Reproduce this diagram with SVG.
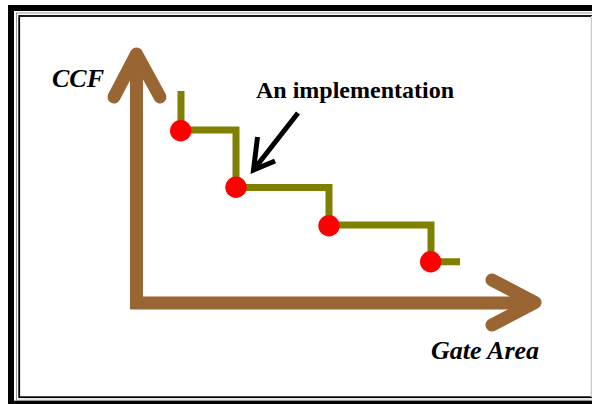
<svg xmlns="http://www.w3.org/2000/svg" width="592" height="404" viewBox="0 0 592 404">
  <defs>
    <style>
      .frame-thick { fill: none; stroke: #000; stroke-width: 6; }
      .frame-gray { fill: none; stroke: #808080; stroke-width: 0.8; }
      .frame-thin { fill: none; stroke: #000; stroke-width: 1.8; }
      .frame-edge { stroke: #c8c8c8; stroke-width: 1.2; }
      .axis { fill: none; stroke: #996633; stroke-width: 13; stroke-linejoin: miter; stroke-linecap: butt; }
      .axis-head { fill: none; stroke: #996633; stroke-width: 13; stroke-linejoin: round; stroke-linecap: round; }
      .step { fill: none; stroke: #808000; stroke-width: 7; stroke-linejoin: miter; stroke-linecap: butt; }
      .dot { fill: #ff0000; }
      .pointer { fill: none; stroke: #000; stroke-width: 5; stroke-linecap: butt; stroke-linejoin: miter; }
      .label { font-family: "Liberation Serif", "Times New Roman", serif; font-weight: bold; fill: #000; }
      .axis-label { font-style: italic; font-size: 26px; }
    </style>
  </defs>

  <rect width="592" height="404" fill="#fff"/>

  <!-- triple-line frame; its right side runs off the page -->
  <g id="frame">
    <rect class="frame-thick" x="11" y="8" width="600" height="395.7"/>
    <rect class="frame-gray" x="16.4" y="13" width="600" height="387.2"/>
    <rect class="frame-thin" x="19.2" y="16" width="600" height="381.2"/>
    <line class="frame-edge" x1="591.4" y1="16" x2="591.4" y2="397"/>
  </g>

  <!-- axes -->
  <g id="axes">
    <polyline class="axis" points="136.5,56 136.5,303 534,303"/>
    <polyline id="y-head" class="axis-head" points="114,97 136.5,54 160,97"/>
    <polyline id="x-head" class="axis-head" points="492,280 535,302.5 492,325"/>
  </g>

  <!-- cost/area trade-off curve -->
  <g id="curve">
    <polyline class="step" points="181,91 181,130 236,130 236,187.5 329,187.5 329,225 431,225 431,261.7 460,261.7"/>
  </g>

  <g id="point-1"><circle class="dot" cx="180.7" cy="130.7" r="10.7"/></g>
  <g id="point-2"><circle class="dot" cx="236" cy="187.3" r="10.7"/></g>
  <g id="point-3"><circle class="dot" cx="329" cy="225.7" r="10.7"/></g>
  <g id="point-4"><circle class="dot" cx="430.7" cy="261.7" r="10.7"/></g>

  <!-- callout arrow -->
  <g id="connectors">
    <line class="pointer" x1="298" y1="113" x2="255" y2="168"/>
    <polyline class="pointer" points="257.5,137 253.5,170 275,161"/>
  </g>

  <!-- labels -->
  <g id="label-ccf"><text class="label axis-label" x="52" y="87.3">CCF</text></g>
  <g id="label-impl"><text class="label" x="256" y="98.3" font-size="24">An implementation</text></g>
  <g id="label-area"><text class="label axis-label" x="431" y="359.3">Gate Area</text></g>
</svg>
